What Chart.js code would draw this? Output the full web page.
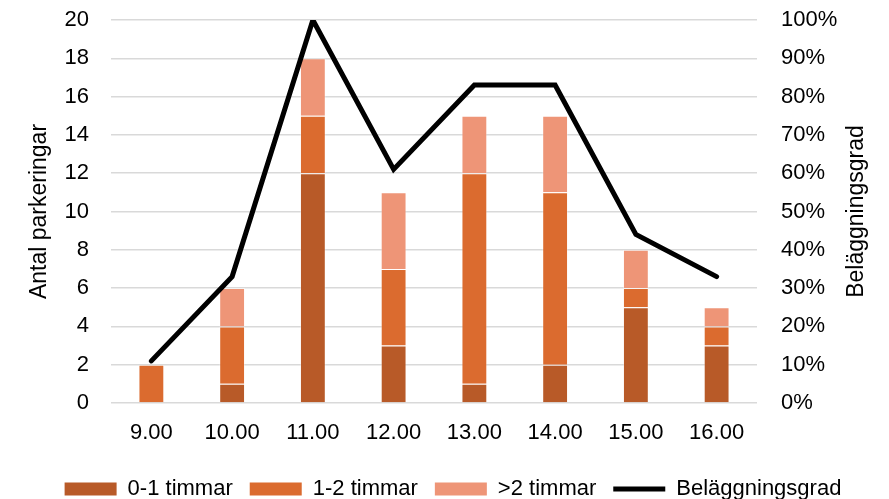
<!DOCTYPE html>
<html>
<head>
<meta charset="utf-8">
<script src="https://cdn.jsdelivr.net/npm/chart.js@4/dist/chart.umd.min.js"></script>
<style>
    html, body { margin: 0; padding: 0; background: #fff; }
    #wrap { width: 889px; height: 499px; }
</style>
</head>
<body>
<div id="wrap"><canvas id="myChart"></canvas></div>
<script>
const kategorier = ['9.00', '10.00', '11.00', '12.00', '13.00', '14.00', '15.00', '16.00']
const kort = [0, 1, 12, 3, 1, 2, 5, 3]
const mellan = [2, 3, 3, 4, 11, 9, 1, 1]
const lang = [0, 2, 3, 4, 3, 4, 2, 1]
const belaggning = [11, 33, 100, 61, 83, 83, 44, 33]

const fontFamily = '"Liberation Sans", Arial, sans-serif'
Chart.defaults.font.family = fontFamily
Chart.defaults.color = '#000'

// höger axeltitel, roterad som den vänstra
const hogerTitel = {
    id: 'hogerTitel',
    afterDraw(chart) {
        const ctx = chart.ctx
        const area = chart.chartArea
        ctx.save()
        ctx.translate(857, (area.top + area.bottom) / 2)
        ctx.rotate(-Math.PI / 2)
        ctx.font = '23px ' + fontFamily
        ctx.fillStyle = '#000'
        ctx.textAlign = 'center'
        ctx.textBaseline = 'middle'
        ctx.fillText('Beläggningsgrad', 0, 0)
        ctx.restore()
    }
}

function stapel(label, data, color) {
    return {
        type: 'bar',
        label: label,
        data: data,
        backgroundColor: color,
        borderColor: 'rgba(255,255,255,0.35)',
        borderWidth: 1,
        yAxisID: 'y',
        stack: 'tid',
        order: 1,
        barPercentage: 0.32,
        categoryPercentage: 1
    }
}

const context = document.getElementById('myChart').getContext('2d')
new Chart(context, {
    data: {
        labels: kategorier,
        datasets: [
            stapel('0-1 timmar', kort, '#B85A28'),
            stapel('1-2 timmar', mellan, '#DB6B2F'),
            stapel('>2 timmar', lang, '#EE9577'),
            {
                type: 'line',
                label: 'Beläggningsgrad',
                data: belaggning,
                borderColor: '#000',
                backgroundColor: '#000',
                borderWidth: 5,
                borderCapStyle: 'round',
                borderJoinStyle: 'miter',
                pointRadius: 0,
                tension: 0,
                yAxisID: 'y1',
                order: 0
            }
        ]
    },
    options: {
        responsive: true,
        maintainAspectRatio: false,
        animation: false,
        layout: { padding: { top: 20, left: 17, right: 0, bottom: 0 } },
        plugins: {
            tooltip: { enabled: false },
            legend: {
                position: 'bottom',
                maxHeight: 38,
                labels: {
                    usePointStyle: true,
                    pointStyleWidth: 52,
                    boxHeight: 13,
                    padding: 17,
                    font: { size: 22 },
                    color: '#000',
                    sort: (a, b) => a.datasetIndex - b.datasetIndex,
                    generateLabels(chart) {
                        const items = Chart.defaults.plugins.legend.labels.generateLabels(chart)
                        items.forEach(item => {
                            const ds = chart.data.datasets[item.datasetIndex]
                            if (ds.type === 'line') {
                                item.pointStyle = 'line'
                                item.lineWidth = 5
                                item.strokeStyle = '#000'
                            } else {
                                item.pointStyle = 'rect'
                                item.lineWidth = 0
                            }
                        })
                        return items
                    }
                }
            }
        },
        scales: {
            x: {
                stacked: true,
                grid: { display: false },
                border: { display: false },
                ticks: { font: { size: 22 }, padding: 9, color: '#000' },
                afterFit(scale) { scale.height = 58 }
            },
            y: {
                stacked: true,
                position: 'left',
                min: 0,
                max: 20,
                ticks: { stepSize: 2, font: { size: 22 }, padding: 22, color: '#000' },
                grid: { color: '#D9D9D9', lineWidth: 1.5, drawTicks: false },
                border: { display: false },
                title: {
                    display: true,
                    text: 'Antal parkeringar',
                    font: { size: 23 },
                    color: '#000',
                    padding: { top: 9, bottom: 0 }
                },
                afterFit(scale) {
                    scale.width = 94
                    scale.paddingTop = 0
                    scale.paddingBottom = 0
                }
            },
            y1: {
                position: 'right',
                min: 0,
                max: 100,
                ticks: {
                    stepSize: 10,
                    font: { size: 22 },
                    padding: 24,
                    color: '#000',
                    callback: v => v + '%'
                },
                grid: { display: false, drawTicks: false },
                border: { display: false },
                afterFit(scale) {
                    scale.width = 132
                    scale.paddingTop = 0
                    scale.paddingBottom = 0
                }
            }
        }
    },
    plugins: [hogerTitel]
})
</script>
</body>
</html>
